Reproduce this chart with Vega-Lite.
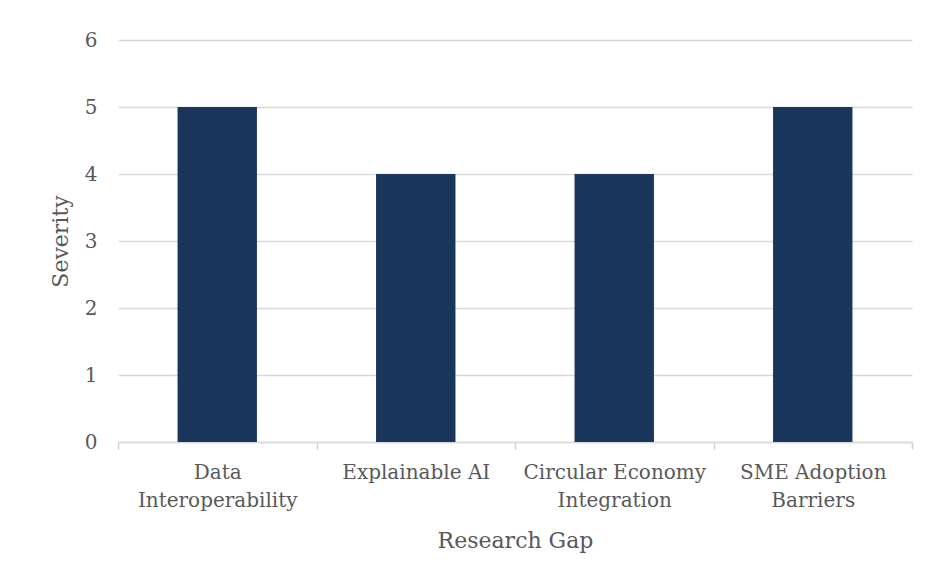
{
  "$schema": "https://vega.github.io/schema/vega-lite/v6.json",
  "width": 794,
  "height": 402,
  "autosize": {"type": "none"},
  "padding": {"left": 118, "top": 40, "right": 15, "bottom": 139},
  "background": "white",
  "data": {
    "values": [
      {"gap": "Data Interoperability", "severity": 5},
      {"gap": "Explainable AI", "severity": 4},
      {"gap": "Circular Economy Integration", "severity": 4},
      {"gap": "SME Adoption Barriers", "severity": 5}
    ]
  },
  "mark": {"type": "bar", "color": "#1B365D", "width": {"band": 0.4}},
  "encoding": {
    "x": {
      "field": "gap",
      "type": "nominal",
      "sort": null,
      "scale": {"paddingInner": 0, "paddingOuter": 0},
      "title": "Research Gap",
      "axis": {
        "labelAngle": 0,
        "ticks": true,
        "tickBand": "extent",
        "tickSize": 7,
        "tickColor": "#D0D0D0",
        "tickWidth": 1.5,
        "domainColor": "#D9D9D9",
        "domainWidth": 1.5,
        "labelPadding": 13,
        "labelLimit": 300,
        "labelLineHeight": 28,
        "labelExpr": "datum.value == 'Data Interoperability' ? ['Data', 'Interoperability'] : datum.value == 'Circular Economy Integration' ? ['Circular Economy', 'Integration'] : datum.value == 'SME Adoption Barriers' ? ['SME Adoption', 'Barriers'] : datum.value",
        "titlePadding": 20
      }
    },
    "y": {
      "field": "severity",
      "type": "quantitative",
      "scale": {"domain": [0, 6]},
      "title": "Severity",
      "axis": {
        "values": [0, 1, 2, 3, 4, 5, 6],
        "domain": false,
        "ticks": false,
        "gridColor": "#D9D9D9",
        "gridWidth": 1.5,
        "labelPadding": 21,
        "titlePadding": 12
      }
    }
  },
  "config": {
    "view": {"stroke": null},
    "axis": {
      "labelFont": "DejaVu Serif",
      "titleFont": "DejaVu Serif",
      "labelFontSize": 20,
      "titleFontSize": 22,
      "labelColor": "#595959",
      "titleColor": "#595959",
      "titleFontWeight": "normal"
    }
  }
}
